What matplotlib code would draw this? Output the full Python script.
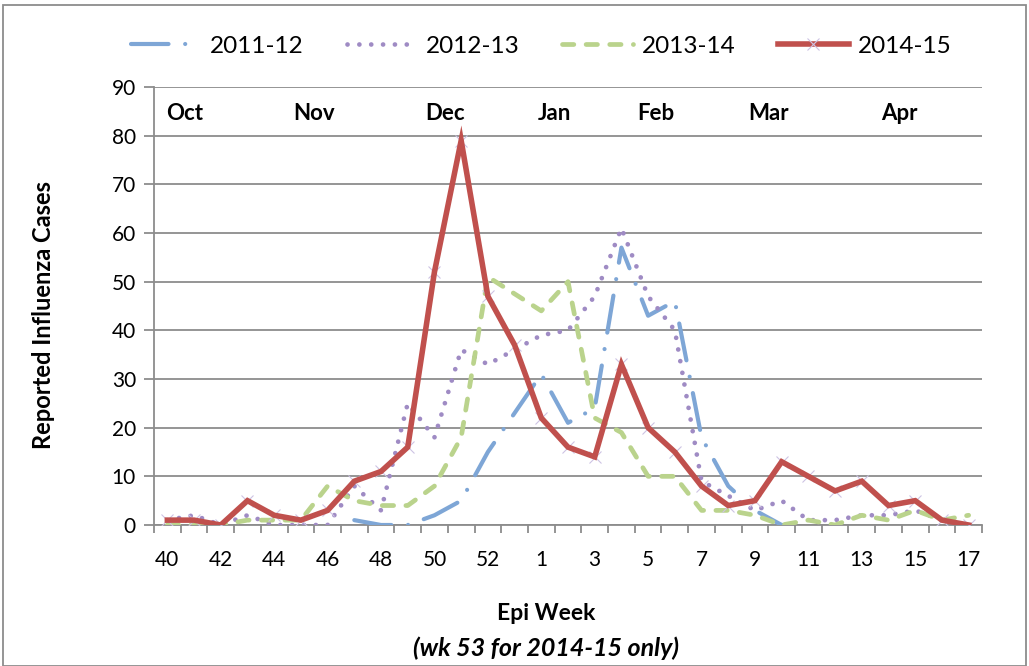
import numpy as np
import matplotlib
matplotlib.use('Agg')
import matplotlib.pyplot as plt
from matplotlib.lines import Line2D
from matplotlib.patches import Rectangle

plt.rcParams['font.family'] = ['Lato', 'DejaVu Sans']

# Epi weeks on the category axis (wk 53 only reported for 2014-15)
weeks = [str(w) for w in range(40, 54)] + [str(w) for w in range(1, 18)]
months = ['Oct', 'Nov', 'Dec', 'Jan', 'Feb', 'Mar', 'Apr']

# reported influenza cases per season (None = no value)
s2011_12 = [None, None, None, None, None, None, None, 1, 0, 0, 2, 5, 15, None,
            31, 21, 24, 57, 43, 46, 18, 8, 3, 0, 0, None, None, None, None, None, None]
s2012_13 = [1, 2, 0, 2, 0, 0, 0, 8, 3, 25, 18, 36, 33, None,
            39, 40, 47, 61, 47, 40, 9, 6, 3, 5, 1, 1, 2, 2, 3, 1, 0]
s2013_14 = [0, 0, 0, 1, 1, 1, 8, 5, 4, 4, 8, 18, 51, None,
            44, 50, 22, 19, 10, 10, 3, 3, 2, 0, 1, 0, 2, 1, 3, 1, 2]
s2014_15 = [1, 1, 0, 5, 2, 1, 3, 9, 11, 16, 52, 79, 47, 37,
            22, 16, 14, 33, 20, 15, 8, 4, 5, 13, 10, 7, 9, 4, 5, 1, 0]

# where the month names sit (in week-index units)
month_x = [0.66, 5.5, 10.4, 14.5, 18.3, 22.5, 27.4]

c_blue = '#7ea6d6'
c_purple = '#9f8bc4'
c_green = '#bad38c'
c_red = '#c0504d'
c_grid = '#8c8c8c'

fig = plt.figure(figsize=(10.29, 6.66), dpi=100)
ax = fig.add_axes([154/1029, 1-525/666, 828/1029, 438/666])

x = np.arange(len(weeks))


def connected(vals):
    # skip missing weeks but keep the line joined, like Excel does
    xs = [i for i, v in enumerate(vals) if v is not None]
    ys = [v for v in vals if v is not None]
    return xs, ys


xb, yb = connected(s2011_12)
ax.plot(xb, yb, color=c_blue, lw=3.0, dashes=(9, 4, 0.01, 4),
        dash_capstyle='round', solid_joinstyle='round', zorder=3)
xp, yp = connected(s2012_13)
ax.plot(xp, yp, color=c_purple, lw=3.4, dashes=(0.01, 2.5),
        dash_capstyle='round', zorder=4)
xg, yg = connected(s2013_14)
ax.plot(xg, yg, color=c_green, lw=3.4, dashes=(2.4, 2.6),
        dash_capstyle='round', zorder=5)
ax.plot(x, s2014_15, ls='none', marker='x', ms=9, mew=0.8, color='#cdc3e3', zorder=5.5)
ax.plot(x, s2014_15, color=c_red, lw=4.0, solid_joinstyle='miter', zorder=6)

# axes
ax.set_xlim(-0.5, len(weeks) - 0.5)
ax.set_ylim(0, 90)
ax.set_yticks(np.arange(0, 91, 10))
ax.yaxis.grid(True, color=c_grid, lw=1.3)
ax.set_axisbelow(True)
for sp in ['top', 'right']:
    ax.spines[sp].set_visible(False)
for sp in ['left', 'bottom']:
    ax.spines[sp].set_color(c_grid)
    ax.spines[sp].set_linewidth(1.3)

ax.set_xticks(x[::2])
ax.set_xticklabels(weeks[::2][:7] + weeks[14::2])
ax.set_xticks(np.arange(-0.5, len(weeks)), minor=True)
ax.tick_params(axis='x', which='major', length=0, pad=18, labelsize=15)
ax.tick_params(axis='x', which='minor', length=6, width=1.3, color=c_grid, direction='out')
ax.tick_params(axis='y', length=7, width=1.3, color=c_grid, pad=6, labelsize=15)

for m, mx in zip(months, month_x):
    ax.text(mx, 83.3, m, ha='center', va='baseline', fontsize=16, fontweight='bold')

ax.set_ylabel('Reported Influenza Cases', fontsize=17, fontweight='bold')
ax.yaxis.set_label_coords(-0.12, 0.48)

fig.text(546/1029, 1-613/666, 'Epi Week', ha='center', va='center',
         fontsize=16.5, fontweight='bold')
fig.text(546/1029, 1-648/666, '(wk 53 for 2014-15 only)', ha='center', va='center',
         fontsize=18, fontweight='bold', fontstyle='italic')

handles = [
    Line2D([], [], color=c_blue, lw=3.0, dashes=(9, 4, 0.01, 4), dash_capstyle='round'),
    Line2D([], [], color=c_purple, lw=3.4, dashes=(0.01, 2.5), dash_capstyle='round'),
    Line2D([], [], color=c_green, lw=3.4, dashes=(2.4, 2.6), dash_capstyle='round'),
    Line2D([], [], color=c_red, lw=4.0, marker='x', ms=9, mew=0.8, mec='#cdc3e3'),
]
fig.legend(handles, ['2011-12', '2012-13', '2013-14', '2014-15'],
           loc='center', bbox_to_anchor=(541/1029, 1-46/666), ncol=4,
           frameon=False, fontsize=17.5, handlelength=2.9, columnspacing=1.75,
           handletextpad=0.37)

# chart border
fig.patches.append(Rectangle((3/1029, 0), 1023/1029, 1-5/666, transform=fig.transFigure,
                             fill=False, edgecolor=c_grid, lw=1.3))

fig.savefig('out.png', dpi=100)
